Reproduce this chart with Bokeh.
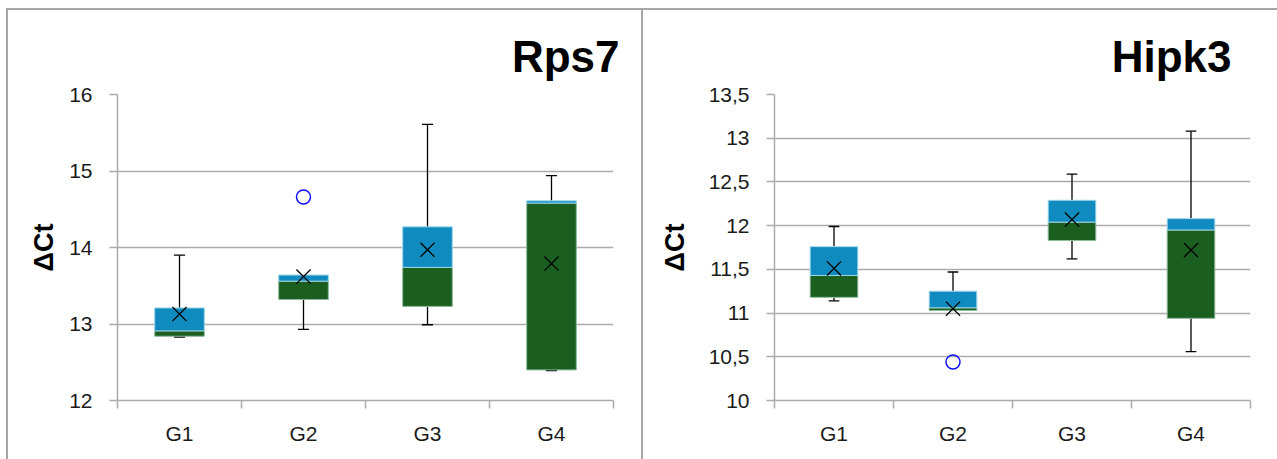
from bokeh.plotting import figure
from bokeh.layouts import row
from bokeh.models import (FixedTicker, CustomJSTickFormatter,
                          ColumnDataSource, Range1d)
from bokeh.embed import file_html
from bokeh.resources import INLINE

# ---- data -------------------------------------------------------------
groups = ["G1", "G2", "G3", "G4"]

rps7_low = [12.83, 12.93, 12.99, 12.39]
rps7_q1 = [12.84, 13.32, 13.23, 12.40]
rps7_median = [12.91, 13.56, 13.74, 14.58]
rps7_q3 = [13.21, 13.64, 14.27, 14.61]
rps7_high = [13.90, 13.64, 15.61, 14.94]
rps7_mean = [13.13, 13.62, 13.97, 13.79]
rps7_outlier_group = ["G2"]
rps7_outlier_value = [14.66]
rps7_ticks = [12, 13, 14, 15, 16]

hipk3_low = [11.14, 11.03, 11.62, 10.56]
hipk3_q1 = [11.18, 11.03, 11.83, 10.94]
hipk3_median = [11.43, 11.06, 12.04, 11.95]
hipk3_q3 = [11.76, 11.25, 12.29, 12.08]
hipk3_high = [11.99, 11.47, 12.59, 13.08]
hipk3_mean = [11.51, 11.05, 12.07, 11.72]
hipk3_outlier_group = ["G2"]
hipk3_outlier_value = [10.44]
hipk3_ticks = [10, 10.5, 11, 11.5, 12, 12.5, 13, 13.5]

FONT = "Liberation Sans"
GRID = "#ababab"
FRAME = "#a6a6a6"
BLUE = "#0f8bbf"
GREEN = "#1a5e20"


def frame_css(left, top, width, height, left_edge=True, right_edge=True):
    """CSS background that draws the chart border behind a transparent canvas."""
    line = f"linear-gradient({FRAME},{FRAME})"
    parts = [f"{line} {left}px {top}px / {width}px 2px no-repeat"]
    if left_edge:
        parts.append(f"{line} {left}px {top}px / 2px {height}px no-repeat")
    if right_edge:
        parts.append(f"{line} {left + width - 2}px {top}px / 2px {height}px no-repeat")
    return {"background": ", ".join(parts) + ", white"}


def box_panel(title, ticks, low, q1, med, q3, high, mean, out_g, out_v,
              width, border_left, border_right, comma, title_dx, label_standoff):
    p = figure(width=width, height=459, output_backend="svg", toolbar_location=None,
               x_range=Range1d(0, len(groups)), y_range=Range1d(ticks[0], ticks[-1]),
               min_border_left=border_left, min_border_right=border_right,
               min_border_top=94, min_border_bottom=59)
    p.outline_line_color = None
    p.background_fill_color = "white"
    p.border_fill_color = None

    # chart title, right-aligned over the plot area
    p.title.text = title
    p.title.align = "right"
    p.title.offset = title_dx
    p.title.standoff = 27
    p.title.text_font = FONT
    p.title.text_font_style = "bold"
    p.title.text_font_size = "44px"
    p.title.text_color = "black"

    xs = [i + 0.5 for i in range(len(groups))]
    cap = 0.045

    # whiskers, only where they reach past the box
    wx0, wy0, wx1, wy1 = [], [], [], []
    for x, lo, a, b, hi in zip(xs, low, q1, q3, high):
        if hi > b:
            wx0 += [x, x - cap]; wy0 += [b, hi]; wx1 += [x, x + cap]; wy1 += [hi, hi]
        if lo < a:
            wx0 += [x, x - cap]; wy0 += [a, lo]; wx1 += [x, x + cap]; wy1 += [lo, lo]
    p.segment(x0=wx0, y0=wy0, x1=wx1, y1=wy1, line_color="black", line_width=1.3)

    src = ColumnDataSource(dict(x=xs, q1=q1, med=med, q3=q3, mean=mean))
    p.vbar(x="x", width=0.4, bottom="q1", top="med", source=src,
           fill_color=GREEN, line_color="#8db89a", line_width=1)
    p.vbar(x="x", width=0.4, bottom="med", top="q3", source=src,
           fill_color=BLUE, line_color="#9fd6ea", line_width=1)
    p.scatter(x="x", y="mean", source=src, marker="x", size=20,
              line_color="black", line_width=1.3)

    ox = [groups.index(g) + 0.5 for g in out_g]
    p.scatter(x=ox, y=out_v, marker="circle", size=14, fill_color=None,
              line_color="#1010ff", line_width=1.5)

    # y axis
    ya = p.yaxis[0]
    ya.ticker = FixedTicker(ticks=ticks, minor_ticks=[])
    if comma:
        ya.formatter = CustomJSTickFormatter(code="return tick.toString().replace('.', ',');")
    ya.axis_line_color = GRID
    ya.axis_line_width = 1.5
    ya.major_tick_line_color = GRID
    ya.major_tick_line_width = 1.5
    ya.major_tick_out = 8
    ya.major_tick_in = 0
    ya.major_label_standoff = 17
    ya.major_label_text_font = FONT
    ya.major_label_text_font_size = "21px"
    ya.major_label_text_color = "#1a1a1a"
    ya.axis_label = "ΔCt"
    ya.axis_label_text_font = FONT
    ya.axis_label_text_font_style = "bold"
    ya.axis_label_text_font_size = "27px"
    ya.axis_label_text_color = "black"
    ya.axis_label_standoff = label_standoff

    p.ygrid.ticker = FixedTicker(ticks=ticks)
    p.ygrid.grid_line_color = GRID
    p.ygrid.grid_line_width = 1.5
    p.xgrid.grid_line_color = None

    # x axis: labels at category centres, separators at boundaries
    xa = p.xaxis[0]
    xa.ticker = FixedTicker(ticks=xs, minor_ticks=list(range(len(groups) + 1)))
    xa.formatter = CustomJSTickFormatter(args=dict(names=groups),
                                         code="return names[Math.floor(tick)];")
    xa.axis_line_color = GRID
    xa.axis_line_width = 1.5
    xa.major_tick_out = 0
    xa.major_tick_in = 0
    xa.minor_tick_line_color = GRID
    xa.minor_tick_line_width = 1.5
    xa.minor_tick_out = 8
    xa.minor_tick_in = 0
    xa.major_label_standoff = 13
    xa.major_label_text_font = FONT
    xa.major_label_text_font_size = "21px"
    xa.major_label_text_color = "#1a1a1a"
    return p


p1 = box_panel("Rps7", rps7_ticks, rps7_low, rps7_q1, rps7_median, rps7_q3, rps7_high,
               rps7_mean, rps7_outlier_group, rps7_outlier_value,
               width=643, border_left=117, border_right=30, comma=False,
               title_dx=-6, label_standoff=7)
p1.styles = frame_css(6, 8, 637, 470)

p2 = box_panel("Hipk3", hipk3_ticks, hipk3_low, hipk3_q1, hipk3_median, hipk3_q3, hipk3_high,
               hipk3_mean, hipk3_outlier_group, hipk3_outlier_value,
               width=634, border_left=131, border_right=27, comma=True,
               title_dx=19, label_standoff=16)
p2.styles = frame_css(0, 8, 634, 470, left_edge=False, right_edge=False)

layout = row(p1, p2, spacing=0)
open("out.html", "w").write(file_html(layout, INLINE))
